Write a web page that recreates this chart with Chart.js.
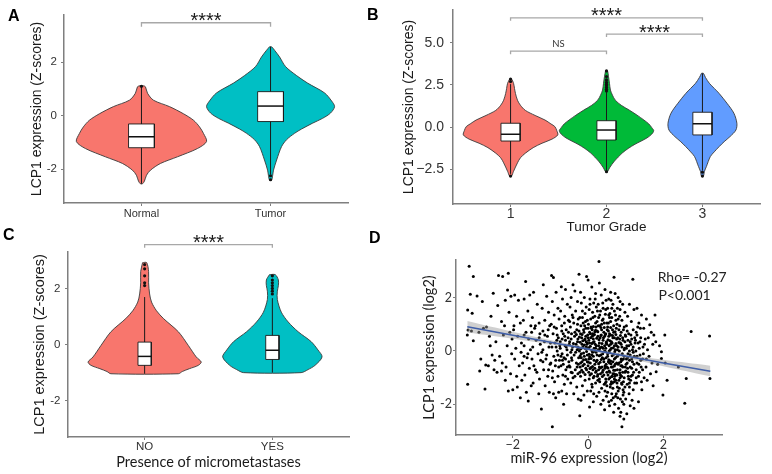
<!DOCTYPE html>
<html><head><meta charset="utf-8">
<script src="https://cdn.jsdelivr.net/npm/chart.js@4.4.0/dist/chart.umd.min.js"></script>
<style>
html,body{margin:0;padding:0;background:#fff;}
#wrap{position:relative;width:772px;height:474px;overflow:hidden;background:#fff;}
canvas{position:absolute;}
.pl{position:absolute;font-family:'Liberation Sans',Arial,sans-serif;font-weight:bold;font-size:16px;line-height:16px;color:#000;}
</style></head><body><div id="wrap">
<canvas id="cA" width="385" height="232" style="left:0;top:0"></canvas>
<canvas id="cB" width="387" height="240" style="left:385px;top:0"></canvas>
<canvas id="cC" width="385" height="242" style="left:0;top:232px"></canvas>
<canvas id="cD" width="387" height="234" style="left:385px;top:240px"></canvas>
<div class="pl" style="left:8px;top:8px">A</div>
<div class="pl" style="left:367px;top:7px">B</div>
<div class="pl" style="left:3px;top:227px">C</div>
<div class="pl" style="left:369px;top:230px">D</div>
</div>
<script>
// ---------------- Panel A data ----------------
const catsA = ['Normal', 'Tumor'];
const normalLev = [1.12,1.08,0.84,0.58,0.34,0.07,-0.17,-0.42,-0.67,-0.97,-1.23,-1.54,-1.79,-2.04,-2.23,-2.45,-2.55];
const normalWid = [0.016,0.031,0.047,0.093,0.217,0.326,0.403,0.450,0.481,0.504,0.434,0.279,0.147,0.070,0.039,0.023,0.008];
const tumorLev = [2.58,2.45,2.2,1.84,1.5,1.22,0.85,0.55,0.34,0.1,-0.1,-0.28,-0.5,-0.66,-0.9,-1.16,-1.66,-2.04,-2.25,-2.41];
const tumorWid = [0.008,0.031,0.070,0.116,0.202,0.287,0.419,0.473,0.496,0.465,0.403,0.326,0.240,0.186,0.124,0.085,0.047,0.023,0.016,0.008];
const lowA = [-2.55, -2.2], q1A = [-1.2, -0.22], medA = [-0.79, 0.36], q3A = [-0.31, 0.9], highA = [1.1, 2.58];
const outA = [[1.1], [-2.25, -2.4]];
const bracketsA = [[1, 2, 3.48]];
const bracketLabelsA = ['****'];
const yTicksA = [-2, 0, 2], yLabelsA = ['-2', '0', '2'];

// ---------------- Panel B data ----------------
const catsB = ['1', '2', '3'];
const g1Lev = [2.85,2.6,2.3,2.0,1.6,1.3,1.0,0.7,0.43,0.2,0.04,-0.2,-0.45,-0.7,-0.94,-1.2,-1.53,-1.8,-2.1,-2.6,-2.88];
const g1Wid = [0.010,0.031,0.041,0.051,0.072,0.103,0.154,0.256,0.359,0.421,0.462,0.482,0.492,0.431,0.328,0.236,0.154,0.103,0.072,0.031,0.010];
const g2Lev = [3.33,3.0,2.6,2.2,1.9,1.6,1.3,1.02,0.72,0.43,0.2,-0.02,-0.2,-0.4,-0.63,-1.0,-1.25,-1.52,-2.0,-2.4,-2.62];
const g2Wid = [0.010,0.021,0.031,0.041,0.062,0.092,0.154,0.236,0.318,0.390,0.441,0.472,0.492,0.472,0.421,0.297,0.226,0.164,0.082,0.031,0.010];
const g3Lev = [3.19,2.95,2.6,2.3,2.0,1.42,0.83,0.24,-0.16,-0.55,-0.85,-1.14,-1.45,-1.73,-2.32,-2.6,-2.88];
const g3Wid = [0.010,0.031,0.072,0.123,0.174,0.256,0.328,0.359,0.349,0.287,0.226,0.174,0.123,0.082,0.041,0.021,0.010];
const lowB = [-2.75, -2.55, -2.55], q1B = [-0.81, -0.75, -0.45], medB = [-0.41, -0.16, 0.21], q3B = [0.24, 0.39, 0.89], highB = [2.55, 2.1, 3.19];
const outB = [[2.7, 2.85, -2.88], [2.15,2.25,2.35,2.45,2.55,2.65,2.8,3.0,3.33,-2.62], [-2.65, -2.88]];
const bracketsB = [[1, 3, 6.47], [2, 3, 5.51], [1, 2, 4.5]];
const bracketLabelsB = ['****', '****', 'NS'];
const yTicksB = [-2.5, 0, 2.5, 5], yLabelsB = ['\u22122.5', '0.0', '2.5', '5.0'];

// ---------------- Panel C data ----------------
const catsC = ['NO', 'YES'];
const noLev = [2.92,2.6,2.2,1.8,1.51,1.2,0.92,0.45,-0.04,-0.45,-0.63,-0.75,-0.87,-0.97,-1.05];
const noWid = [0.016,0.031,0.031,0.039,0.054,0.093,0.148,0.264,0.342,0.404,0.443,0.420,0.350,0.295,0.264];
const yesLev = [2.49,2.3,2.1,1.9,1.6,1.15,0.8,0.45,0.1,-0.2,-0.45,-0.75,-0.9,-1.01];
const yesWid = [0.023,0.047,0.047,0.039,0.039,0.070,0.124,0.202,0.303,0.357,0.389,0.334,0.280,0.225];
const lowC = [-1.05, -1.01], q1C = [-0.75, -0.54], medC = [-0.43, -0.21], q3C = [0.08, 0.32], highC = [1.69, 1.65];
const outC = [[2.1, 2.2, 2.45, 2.7, 2.85], [1.8, 1.9, 2.0, 2.1, 2.2, 2.3, 2.45]];
const bracketsC = [[1, 2, 3.56]];
const bracketLabelsC = ['****'];
const yTicksC = [-2, 0, 2], yLabelsC = ['-2', '0', '2'];

// ---------------- Panel D data ----------------
const xTicksD = [-2, 0, 2], xLabelsD = ['\u22122', '0', '2'];
const yTicksD = [-2, 0, 2], yLabelsD = ['-2', '0', '2'];
const regX = [-3.21, -2, -1, 0, 1, 2, 3.25];
const regFit = [0.91, 0.59, 0.33, 0.07, -0.19, -0.45, -0.76];
const regUpper = [1.12, 0.72, 0.41, 0.12, -0.12, -0.33, -0.55];
const regLower = [0.69, 0.46, 0.25, 0.02, -0.26, -0.57, -0.95];
const scatterPts = [
[-3.16,3.18],[-3.13,2.13],[-3.2,1.54],[-3.08,1.41],[-3.19,0.79],[-3.21,0.6],[-3.05,0.38],[-3.2,-1.25],[-3.05,2.79],[-3.1,0.75],
[-2.95,2.06],[-2.81,1.85],[-2.88,-0.75],[-2.9,0.7],[-2.78,0.85],[-2.85,-0.3],[-2.74,-1.43],[-2.72,-0.53],
[-2.52,2.16],[-2.7,0.9],[-2.6,0.2],[-2.55,-0.15],[-2.65,-0.55],[-2.58,1.3],[-2.5,-0.7],[-2.62,0.55],
[-2.38,2.83],[-2.27,2.79],[-2.4,1.7],[-2.3,1.1],[-2.45,0.35],[-2.35,-0.2],[-2.28,-0.45],[-2.42,-0.8],[-2.3,-0.75],[-2.25,0.6],[-2.48,-0.35],
[-2.12,2.91],[-2.14,2.29],[-2.2,1.9],[-2.05,2.05],[-2.1,1.45],[-2.22,0.95],[-2.08,0.7],[-2.15,0.2],[-2.03,-0.1],[-2.18,-0.6],[-2.06,-0.85],[-2.12,-1.5],[-2.0,-1.45],[-2.2,-1.1],[-2.02,0.45],
[-1.95,2.1],[-1.85,1.9],[-1.9,1.3],[-1.8,1.05],[-1.98,0.8],[-1.87,0.55],[-1.92,0.1],[-1.78,-0.05],[-1.95,-0.3],[-1.83,-0.55],[-1.9,-0.95],[-1.76,-1.1],[-1.88,-1.35],[-1.8,-1.75],[-1.97,0.95],[-1.77,0.3],
[-1.66,2.6],[-1.7,1.95],[-1.55,2.1],[-1.6,1.5],[-1.72,1.15],[-1.52,0.95],[-1.65,0.7],[-1.58,0.45],[-1.7,0.2],[-1.53,0.05],[-1.62,-0.25],[-1.74,-0.45],[-1.56,-0.65],[-1.68,-0.9],[-1.59,-1.88],[-1.51,-1.3],[-1.64,-1.55],[-1.7,0.6],
[-1.45,2.2],[-1.35,1.75],[-1.48,1.25],[-1.3,1.05],[-1.42,0.85],[-1.28,0.65],[-1.38,0.4],[-1.47,0.15],[-1.33,-0.1],[-1.26,-0.35],[-1.44,-0.55],[-1.36,-0.8],[-1.29,-1.05],[-1.46,-1.2],[-1.31,-1.6],[-1.4,0.95],[-1.27,0.25],[-1.49,-0.3],
[-1.19,2.48],[-1.1,2.05],[-1.22,1.6],[-1.05,1.45],[-1.15,1.15],[-1.02,0.95],[-1.2,0.75],[-1.08,0.55],[-1.16,0.35],[-1.04,0.15],[-1.23,-0.05],[-1.12,-0.3],[-1.01,-0.5],[-1.18,-0.7],[-1.07,-0.95],[-1.24,-2.18],[-1.14,-1.3],[-1.03,-1.55],[-1.2,0.05],[-1.1,-0.15],[-1.06,0.8],
[-0.97,2.83],[-0.92,2.75],[-0.85,2.2],[-0.95,1.85],[-0.8,1.6],[-0.9,1.35],[-0.77,1.2],[-0.98,1.0],[-0.84,0.85],[-0.93,0.65],[-0.79,0.5],[-0.88,0.3],[-0.96,0.15],[-0.82,0.0],[-0.91,-0.2],[-0.76,-0.35],[-0.87,-0.55],[-0.94,-0.75],[-0.8,-0.95],[-0.89,-1.15],[-0.78,-1.55],[-0.95,-2.84],[-0.86,-1.75],[-0.99,-0.45],[-0.83,0.4],[-0.92,-1.6],
[-0.71,2.41],[-0.6,2.3],[-0.68,1.95],[-0.55,1.75],[-0.73,1.5],[-0.62,1.3],[-0.52,1.15],[-0.7,0.95],[-0.58,0.8],[-0.66,0.65],[-0.53,0.5],[-0.74,0.35],[-0.61,0.2],[-0.56,0.05],[-0.69,-0.1],[-0.64,-0.25],[-0.51,-0.4],[-0.72,-0.55],[-0.59,-0.7],[-0.67,-0.9],[-0.54,-1.05],[-0.63,-1.25],[-0.7,-1.5],[-0.57,-1.6],[-0.65,-2.0],[-0.52,0.7],[-0.6,0.4],[-0.74,0.1],[-0.55,-0.15],[-0.68,-0.35],
[-0.4,2.48],[-0.35,2.25],[-0.45,2.0],[-0.28,1.85],[-0.48,1.65],[-0.33,1.5],[-0.42,1.35],[-0.26,1.2],[-0.38,1.05],[-0.47,0.9],[-0.3,0.8],[-0.44,0.65],[-0.36,0.55],[-0.27,0.45],[-0.49,0.35],[-0.32,0.25],[-0.41,0.15],[-0.29,0.05],[-0.46,-0.05],[-0.37,-0.15],[-0.25,-0.25],[-0.43,-0.35],[-0.31,-0.45],[-0.48,-0.6],[-0.34,-0.7],[-0.27,-0.85],[-0.4,-1.0],[-0.46,-1.2],[-0.3,-1.35],[-0.38,-1.6],[-0.26,-1.8],[-0.44,-0.25],[-0.35,0.7],[-0.28,1.0],[-0.49,1.1],
[-0.24,2.88],[-0.04,2.79],[-0.22,-2.43],[-0.2,2.2],[-0.1,2.0],[-0.18,1.8],[-0.05,1.65],[-0.15,1.5],[-0.08,1.4],[-0.22,1.25],[-0.02,1.15],[-0.13,1.05],[-0.19,0.95],[-0.06,0.85],[-0.24,0.75],[-0.11,0.7],[-0.01,0.6],[-0.17,0.5],[-0.09,0.42],[-0.21,0.33],[-0.03,0.25],[-0.14,0.15],[-0.07,0.08],[-0.23,0.0],[-0.12,-0.08],[-0.02,-0.15],[-0.18,-0.25],[-0.06,-0.32],[-0.16,-0.4],[-0.1,-0.5],[-0.21,-0.6],[-0.04,-0.7],[-0.13,-0.8],[-0.2,-0.95],[-0.08,-1.1],[-0.15,-1.3],[-0.02,-1.5],[-0.11,-1.65],[-0.19,-1.85],[-0.05,0.35],[-0.16,0.62],[-0.09,0.95],[-0.2,-0.45],
[0.0,2.66],[0.1,2.4],[0.2,2.15],[0.05,1.95],[0.15,1.8],[0.22,1.65],[0.03,1.55],[0.12,1.45],[0.18,1.3],[0.07,1.2],[0.24,1.1],[0.01,1.0],[0.14,0.92],[0.09,0.85],[0.2,0.78],[0.04,0.7],[0.17,0.62],[0.11,0.55],[0.23,0.48],[0.02,0.4],[0.13,0.32],[0.19,0.25],[0.06,0.18],[0.16,0.1],[0.1,0.02],[0.21,-0.05],[0.03,-0.12],[0.14,-0.2],[0.08,-0.28],[0.24,-0.35],[0.01,-0.42],[0.18,-0.5],[0.12,-0.58],[0.05,-0.66],[0.22,-0.75],[0.09,-0.85],[0.16,-0.95],[0.03,-1.05],[0.2,-1.2],[0.11,-1.35],[0.07,-1.5],[0.23,-1.7],[0.14,-1.9],[0.04,-2.1],[0.18,0.0],[0.07,0.5],[0.21,0.9],[0.13,-0.7],[0.02,-0.3],
[0.29,3.35],[0.3,2.55],[0.45,2.3],[0.35,2.1],[0.48,1.9],[0.27,1.75],[0.4,1.6],[0.33,1.5],[0.46,1.38],[0.28,1.25],[0.38,1.15],[0.5,1.05],[0.31,0.95],[0.43,0.88],[0.36,0.8],[0.26,0.72],[0.47,0.65],[0.34,0.58],[0.41,0.5],[0.29,0.42],[0.49,0.35],[0.37,0.28],[0.44,0.2],[0.32,0.12],[0.27,0.05],[0.46,-0.02],[0.39,-0.1],[0.3,-0.18],[0.48,-0.25],[0.35,-0.32],[0.42,-0.4],[0.28,-0.48],[0.45,-0.56],[0.33,-0.64],[0.4,-0.72],[0.5,-0.8],[0.26,-0.88],[0.38,-0.96],[0.47,-1.05],[0.31,-1.15],[0.43,-1.25],[0.36,-1.4],[0.29,-1.55],[0.49,-1.7],[0.4,-1.85],[0.34,-2.0],[0.44,-2.2],[0.3,0.3],[0.42,0.7],[0.37,-0.6],[0.47,0.1],
[0.69,2.76],[0.6,2.2],[0.72,2.15],[0.55,1.95],[0.66,1.75],[0.52,1.6],[0.7,1.5],[0.58,1.4],[0.63,1.25],[0.74,1.15],[0.54,1.05],[0.68,0.95],[0.6,0.88],[0.51,0.8],[0.72,0.72],[0.57,0.65],[0.65,0.58],[0.7,0.5],[0.53,0.42],[0.62,0.35],[0.74,0.28],[0.56,0.2],[0.67,0.12],[0.59,0.05],[0.71,-0.03],[0.52,-0.1],[0.64,-0.18],[0.73,-0.25],[0.55,-0.33],[0.66,-0.4],[0.61,-0.48],[0.7,-0.56],[0.53,-0.64],[0.68,-0.72],[0.58,-0.8],[0.74,-0.88],[0.63,-0.96],[0.55,-1.05],[0.7,-1.15],[0.6,-1.25],[0.66,-1.4],[0.52,-1.55],[0.73,-1.7],[0.62,-1.85],[0.57,-2.05],[0.68,-2.3],[0.65,0.8],[0.56,-0.05],[0.72,-0.5],[0.6,0.25],
[0.9,-2.84],[0.85,-2.45],[0.95,-2.55],[0.8,2.0],[0.92,1.75],[0.78,1.6],[0.98,1.45],[0.84,1.3],[0.9,1.15],[0.77,1.0],[0.96,0.9],[0.82,0.8],[0.88,0.7],[0.99,0.6],[0.79,0.5],[0.93,0.4],[0.86,0.3],[0.76,0.2],[0.97,0.1],[0.83,0.0],[0.91,-0.1],[0.78,-0.2],[0.94,-0.3],[0.87,-0.4],[0.8,-0.5],[0.99,-0.6],[0.85,-0.7],[0.92,-0.8],[0.77,-0.9],[0.96,-1.0],[0.82,-1.1],[0.89,-1.2],[0.98,-1.35],[0.8,-1.5],[0.93,-1.65],[0.86,-1.8],[0.95,-2.0],[0.81,-2.15],[0.9,-0.35],[0.84,0.45],
[1.19,2.69],[1.1,1.75],[1.22,1.55],[1.05,1.3],[1.15,1.1],[1.02,0.95],[1.2,0.8],[1.08,0.65],[1.24,0.5],[1.12,0.35],[1.03,0.2],[1.18,0.05],[1.06,-0.1],[1.23,-0.2],[1.1,-0.35],[1.01,-0.5],[1.16,-0.65],[1.21,-0.8],[1.07,-0.95],[1.13,-1.1],[1.04,-1.25],[1.2,-1.45],[1.09,-1.6],[1.17,-1.85],[1.12,-2.05],[1.22,-2.15],[1.05,-0.25],[1.14,0.6],
[1.3,1.6],[1.42,1.35],[1.35,1.05],[1.48,0.85],[1.28,0.7],[1.4,0.5],[1.33,0.3],[1.46,0.15],[1.27,0.0],[1.38,-0.15],[1.45,-0.3],[1.3,-0.45],[1.41,-0.6],[1.36,-0.8],[1.49,-1.0],[1.29,-1.2],[1.43,-1.45],[1.34,-1.9],[1.47,-0.1],[1.39,0.85],
[1.64,0.98],[1.55,1.2],[1.68,0.7],[1.52,0.45],[1.72,0.25],[1.58,0.05],[1.62,-0.2],[1.7,-0.45],[1.54,-0.6],[1.66,-0.85],[1.75,0.6],[1.57,-1.1],[1.73,-1.3],
[1.81,-0.78],[1.95,-0.03],[1.95,-0.28],[1.99,-1.65],[1.8,0.35],[1.9,0.2],[1.85,-0.5],[1.78,1.35],
[2.04,0.6],[2.1,-1.1],[2.61,-1.03],[2.57,-1.96],[2.74,0.73],[3.23,0.56],[3.24,-1.03],[2.4,-0.6],[2.05,-0.45],
[-0.58,0.15],[-0.5,-0.55],[-0.45,0.45],[-0.42,-0.82],[-0.39,0.28],[-0.33,-0.05],[-0.31,0.62],[-0.29,-0.6],[-0.27,0.15],[-0.23,0.52],[-0.21,-0.18],[-0.19,0.08],[-0.17,-0.72],[-0.14,0.38],[-0.12,-0.33],[-0.1,0.22],[-0.08,-0.88],[-0.06,0.55],[-0.04,-0.02],[-0.02,0.3],
[0.0,-0.55],[0.02,0.12],[0.04,-0.22],[0.06,0.65],[0.08,-0.62],[0.1,0.28],[0.12,-0.05],[0.14,0.45],[0.16,-0.35],[0.18,0.72],[0.2,-0.8],[0.22,0.2],[0.24,-0.15],[0.26,0.55],[0.28,-0.7],[0.3,0.05],[0.32,-0.42],[0.34,0.88],[0.36,0.15],[0.38,-0.25],
[0.4,0.4],[0.42,-0.9],[0.44,0.0],[0.46,0.62],[0.48,-0.5],[0.5,0.25],[0.52,-0.2],[0.54,0.75],[0.56,-0.75],[0.58,0.38],[0.6,-0.38],[0.62,0.1],[0.64,-0.95],[0.66,0.5],[0.68,-0.12],[0.7,0.2],[0.72,-0.72],[0.74,0.62],[0.76,-0.45],[0.78,0.05],
[0.8,-0.15],[0.82,0.32],[0.84,-0.82],[0.86,0.58],[0.88,-0.3],[0.9,0.15],[0.92,-0.6],[0.94,0.8],[0.96,-0.2],[0.98,0.35],[1.0,-0.75],[1.02,0.1],[1.04,-0.45],[1.06,0.4],[1.08,-1.05],[1.1,0.0],[1.12,-0.6],[1.14,0.25],[1.16,-0.3],[1.18,-0.9],
[1.2,0.15],[1.22,-0.5],[1.24,-1.2],[1.26,0.4],[1.28,-0.7],[1.3,-0.2],[1.32,0.9],[1.34,-0.95],[1.36,0.1],[1.4,-0.35],
[-0.9,0.9],[-0.86,-0.35],[-0.82,0.6],[-0.78,-0.6],[-0.75,0.2],[-0.72,-0.2],[-0.69,0.45],[-0.66,-0.5],[-0.63,1.05],[-0.6,-0.95],
[-1.3,0.5],[-1.2,-0.4],[-1.15,0.6],[-1.05,-0.7],[-1.0,0.3],[-0.95,-1.0],[-1.4,-0.7],[-1.5,0.7],[-1.6,-0.1],[-1.7,-0.2],
[0.1,-1.25],[0.3,-1.05],[0.5,-1.3],[0.7,-1.05],[0.9,-1.25],[0.2,1.05],[0.4,1.2],[0.6,1.1],[0.8,1.2],[0.0,0.85],
[0.15,-1.6],[0.45,-1.5],[0.75,-1.6],[1.0,-1.8],[0.55,-1.9],[0.25,1.5],[0.55,1.35],[0.85,1.55],[-0.15,1.25],[-0.4,1.25],
[0.05,-0.9],[0.25,-0.95],[0.45,-0.65],[0.65,-0.6],[0.85,-1.0],[0.35,0.6],[0.15,0.6],[0.55,0.55],[0.75,0.85],[-0.05,0.15],
[0.62,-1.15],[0.78,-1.35],[0.95,-1.55],[1.1,-1.35],[0.48,-1.15],[0.33,-0.85],[0.69,-0.85],[0.87,-0.55],[1.05,-0.65],[0.57,-0.45],
[-0.28,0.35],[-0.26,-0.5],[-0.24,0.1],[-0.22,-0.8],[-0.2,0.65],[-0.18,-0.1],[-0.16,0.25],[-0.14,-0.55],[-0.12,0.8],[-0.1,-0.2],[-0.08,0.45],[-0.06,-0.65],[-0.04,0.12],[-0.02,-0.4],[0.0,0.5],
[0.02,-0.8],[0.04,0.3],[0.06,-0.45],[0.08,0.9],[0.1,-0.15],[0.12,0.65],[0.14,-1.0],[0.16,0.35],[0.18,-0.65],[0.2,0.1],[0.22,-0.4],[0.24,0.75],[0.26,-1.1],[0.28,0.2],[0.3,-0.6],
[0.32,0.5],[0.34,-0.15],[0.36,1.0],[0.38,-0.8],[0.4,0.1],[0.42,-0.3],[0.44,0.55],[0.46,-1.2],[0.48,0.3],[0.5,-0.6],[0.52,0.9],[0.54,-0.4],[0.56,0.0],[0.58,-1.0],[0.6,0.6],
[0.62,-0.6],[0.64,0.3],[0.66,-0.85],[0.68,0.7],[0.7,-0.3],[0.72,0.05],[0.74,-1.1],[0.76,0.45],[0.78,-0.7],[0.8,0.15],[0.82,-0.45],[0.84,0.95],[0.86,-0.9],[0.88,0.25],[0.9,-0.55],
[0.92,0.5],[0.94,-1.15],[0.96,0.05],[0.98,-0.8],[1.0,0.55],[1.02,-0.3],[1.04,0.75],[1.06,-0.8],[1.08,0.2],[1.1,-1.2],[1.12,-0.15],[1.14,-0.95],[1.16,0.45],[1.18,-0.4],[1.2,-0.05],
[0.53,-0.9],[0.59,-1.35],[0.65,-1.2],[0.71,-0.95],[0.77,-1.2],[0.83,-1.4],[0.89,-0.95],[0.93,-1.45],[0.63,-1.6],[0.79,-1.75],[0.87,-2.3],[0.71,-2.0],[1.03,-2.35],[0.91,-1.9],[0.67,-1.75],
[0.11,0.8],[0.27,0.95],[0.43,1.05],[0.57,1.25],[0.73,1.35],[0.31,1.35],[0.13,1.25],[-0.07,1.1],[0.47,1.55],[0.63,1.6],[0.19,1.95],[0.39,1.8],[0.61,1.9],[0.85,1.85],[0.05,1.75],
[-0.35,-0.95],[-0.45,-0.8],[-0.55,-0.6],[-0.5,0.25],[-0.6,-0.3],[-0.7,0.75],[-0.8,-0.15],[-0.85,0.15],[-0.62,0.55],[-0.43,0.05],
[1.25,0.3],[1.3,0.6],[1.35,-0.5],[1.38,0.35],[1.45,-0.7],[1.5,0.25],[1.55,-0.3],[1.6,0.5],[1.28,-1.0],[1.42,-1.15]
];

// ---------------- styles & helpers ----------------
const F1 = "'Liberation Sans', Arial, sans-serif";
const F2 = "Lato, 'Open Sans', sans-serif";
const OUTLINE = '#3a3a3a';
const AXIS = '#7f7f7f';
const RED = '#F8766D', TEAL = '#00BFC4', GREEN = '#00BA38', BLUE = '#619CFF';

function violinPts(c, lev, wid) {
  const left = lev.map((y, i) => ({x: c - wid[i], y}));
  const right = lev.map((y, i) => ({x: c + wid[i], y})).reverse();
  const pts = left.concat(right);
  pts.push(left[0]);
  return pts;
}
function boxPts(c, hw, q1, q3) {
  return [{x:c-hw,y:q3},{x:c+hw,y:q3},{x:c+hw,y:q1},{x:c-hw,y:q1},{x:c-hw,y:q3}];
}
function violinSets(levs, wids, colors, low, q1, med, q3, high, outs, boxHW) {
  const ds = [];
  levs.forEach((lev, i) => {
    const c = i + 1;
    ds.push({data: violinPts(c, lev, wids[i]), borderColor: OUTLINE, borderWidth: 0.9, backgroundColor: colors[i], fill: 'shape', tension: 0.3, pointRadius: 0, order: 50});
    ds.push({data: [{x:c,y:low[i]},{x:c,y:high[i]}], borderColor: '#1a1a1a', borderWidth: 1, pointRadius: 0, fill: false, order: 40});
    ds.push({data: boxPts(c, boxHW, q1[i], q3[i]), borderColor: '#1a1a1a', borderWidth: 0.9, backgroundColor: '#ffffff', fill: 'shape', tension: 0, pointRadius: 0, order: 30});
    ds.push({data: [{x:c-boxHW,y:med[i]},{x:c+boxHW,y:med[i]}], borderColor: '#111', borderWidth: 1.5, pointRadius: 0, fill: false, order: 20});
    ds.push({data: outs[i].map(y => ({x:c, y})), showLine: false, pointRadius: 1.6, pointBackgroundColor: '#111', pointBorderWidth: 0, order: 10});
  });
  return ds;
}
function bracketSets(brackets, drop) {
  return brackets.map(b => ({data: [{x:b[0],y:b[2]-drop},{x:b[0],y:b[2]},{x:b[1],y:b[2]},{x:b[1],y:b[2]-drop}],
    borderColor: '#a8a8a8', borderWidth: 1.3, pointRadius: 0, fill: false, clip: false, tension: 0, order: 0}));
}
function bracketTexts(brackets, labels) {
  return brackets.map((b, i) => labels[i] === 'NS'
    ? {x:(b[0]+b[1])/2, y:b[2], dy:-4.3, text:labels[i], font:"9.5px " + F2, color:'#333'}
    : {x:(b[0]+b[1])/2, y:b[2], dy:4.5, text:labels[i], font:"20px " + F1, color:'#1a1a1a'});
}
function scale(o) {
  return {
    type: 'linear', min: o.min, max: o.max,
    afterBuildTicks: s => { s.ticks = o.ticks.map(v => ({value: v})); },
    afterFit: s => {
      if (o.axis === 'x') s.height = o.size; else s.width = o.size;
      s.paddingTop = 0; s.paddingBottom = 0; s.paddingLeft = 0; s.paddingRight = 0;
    },
    ticks: {autoSkip: false, maxRotation: 0, minRotation: 0, padding: o.pad, color: '#333',
      font: o.font, callback: (v, i) => o.labels[i]},
    grid: {display: true, drawOnChartArea: false, drawTicks: true, tickLength: 3, color: AXIS, lineWidth: 1},
    border: {display: true, color: AXIS, width: 1.5},
    title: o.title ? {display: true, text: o.title, color: '#1a1a1a', font: o.titleFont, padding: o.titlePad} : {display: false}
  };
}
const textPlugin = {
  id: 'texts',
  afterDraw(chart, args, opts) {
    const items = (opts && opts.items) || [];
    const ctx = chart.ctx, xs = chart.scales.x, ys = chart.scales.y;
    items.forEach(it => {
      ctx.save();
      ctx.font = it.font; ctx.fillStyle = it.color || '#222';
      ctx.textAlign = it.align || 'center'; ctx.textBaseline = it.baseline || 'alphabetic';
      ctx.fillText(it.text, xs.getPixelForValue(it.x), ys.getPixelForValue(it.y) + (it.dy || 0));
      ctx.restore();
    });
  }
};
function makeChart(id, datasets, xs, ys, pad, texts) {
  return new Chart(document.getElementById(id), {
    type: 'line',
    data: {datasets},
    options: {
      responsive: false, animation: false, devicePixelRatio: 1, events: [],
      layout: {padding: pad},
      plugins: {legend: {display: false}, tooltip: {enabled: false}, texts: {items: texts}},
      scales: {x: xs, y: ys}
    },
    plugins: [textPlugin]
  });
}

// ---------------- Panel A ----------------
makeChart('cA',
  violinSets([normalLev, tumorLev], [normalWid, tumorWid], [RED, TEAL], lowA, q1A, medA, q3A, highA, outA, 0.1)
    .concat(bracketSets(bracketsA, 0.15)),
  scale({axis:'x', min:0.4, max:2.6, ticks:[1,2], labels:catsA, size:29, pad:1, font:{family:F1, size:11}}),
  scale({axis:'y', min:-3.27, max:3.77, ticks:yTicksA, labels:yLabelsA, size:64, pad:4, font:{family:F1, size:11.5},
    title:'LCP1 expression (Z-scores)', titleFont:{family:F1, size:14}, titlePad:{top:29, bottom:0}}),
  {top:15, right:37, left:0, bottom:0},
  bracketTexts(bracketsA, bracketLabelsA));

// ---------------- Panel B ----------------
makeChart('cB',
  violinSets([g1Lev, g2Lev, g3Lev], [g1Wid, g2Wid, g3Wid], [RED, GREEN, BLUE], lowB, q1B, medB, q3B, highB, outB, 0.1)
    .concat(bracketSets(bracketsB, 0.18)),
  scale({axis:'x', min:0.4, max:3.6, ticks:[1,2,3], labels:catsB, size:36, pad:-1, font:{family:F1, size:14},
    title:'Tumor Grade', titleFont:{family:F1, size:13.5}, titlePad:{top:0, bottom:4.2}}),
  scale({axis:'y', min:-4.53, max:6.93, ticks:yTicksB, labels:yLabelsB, size:68, pad:6, font:{family:F1, size:14},
    title:'LCP1 expression (Z-scores)', titleFont:{family:F1, size:14}, titlePad:{top:15.6, bottom:0}}),
  {top:10, right:12, left:0, bottom:0},
  bracketTexts(bracketsB, bracketLabelsB));

// ---------------- Panel C ----------------
makeChart('cC',
  violinSets([noLev, yesLev], [noWid, yesWid], [RED, TEAL], lowC, q1C, medC, q3C, highC, outC, 0.052)
    .concat(bracketSets(bracketsC, 0.11)),
  scale({axis:'x', min:0.4, max:2.6, ticks:[1,2], labels:catsC, size:37, pad:0, font:{family:F1, size:11.5},
    title:'Presence of micrometastases', titleFont:{family:F2, size:14.5}, titlePad:{top:0, bottom:2.6}}),
  scale({axis:'y', min:-3.31, max:3.30, ticks:yTicksC, labels:yLabelsC, size:68, pad:4.5, font:{family:F1, size:11.5},
    title:'LCP1 expression (Z-scores)', titleFont:{family:F1, size:14.5}, titlePad:{top:31.3, bottom:0}}),
  {top:20, right:36, left:0, bottom:0},
  bracketTexts(bracketsC, bracketLabelsC));

// ---------------- Panel D ----------------
const dSets = [
  {data: scatterPts.map(p => ({x:p[0], y:p[1]})), showLine: false, pointRadius: 1.5, pointBackgroundColor: '#000', pointBorderWidth: 0, order: 30},
  {data: regX.map((x, i) => ({x, y: regUpper[i]})), borderWidth: 0, pointRadius: 0, fill: '+1', backgroundColor: 'rgba(150,150,150,0.45)', tension: 0.4, order: 20},
  {data: regX.map((x, i) => ({x, y: regLower[i]})), borderWidth: 0, pointRadius: 0, fill: false, tension: 0.4, order: 21},
  {data: regX.map((x, i) => ({x, y: regFit[i]})), borderColor: '#3f5ea8', borderWidth: 1.6, pointRadius: 0, fill: false, order: 5}
];
makeChart('cD', dSets,
  scale({axis:'x', min:-3.51, max:3.56, ticks:xTicksD, labels:xLabelsD, size:39, pad:-1, font:{family:F2, size:12.5},
    title:'miR-96 expression (log2)', titleFont:{family:F2, size:14.5}, titlePad:{top:0, bottom:7}}),
  scale({axis:'y', min:-3.15, max:3.41, ticks:yTicksD, labels:yLabelsD, size:71, pad:1, font:{family:F2, size:12.5},
    title:'LCP1 expression (log2)', titleFont:{family:F2, size:14.5}, titlePad:{top:36, bottom:0}}),
  {top:20, right:50, left:0, bottom:0},
  [{x:1.85, y:2.75, text:'Rho= -0.27', font:"14px " + F2, align:'left', baseline:'middle', color:'#222'},
   {x:1.87, y:2.07, text:'P<0.001', font:"14px " + F2, align:'left', baseline:'middle', color:'#222'}]);
</script>
</body></html>
